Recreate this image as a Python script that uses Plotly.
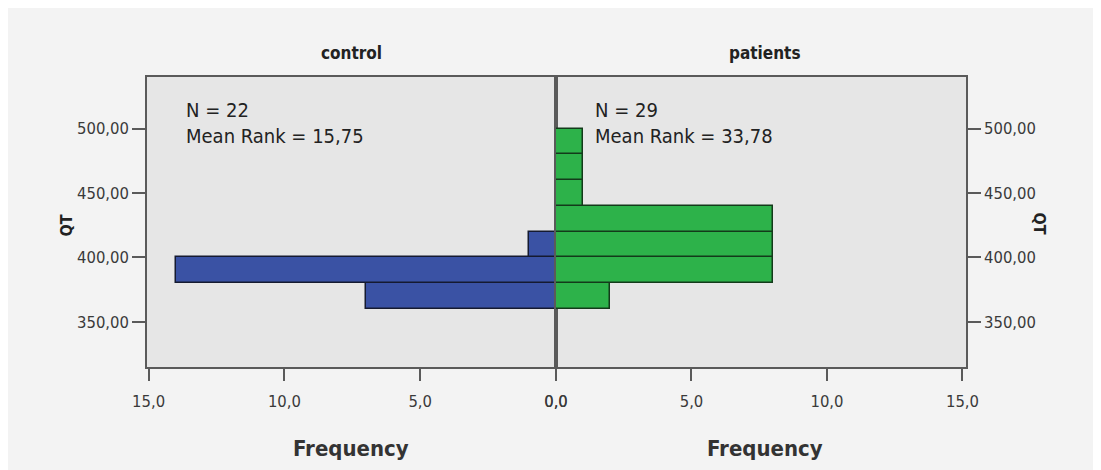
import plotly.graph_objects as go

# ---- data ----
bin_edges = [360, 380, 400, 420, 440, 460, 480, 500]
control_freq = [7, 14, 1, 0, 0, 0, 0]
patients_freq = [2, 8, 8, 8, 1, 1, 1]
groups = ["control", "patients"]
group_n = [22, 29]
mean_rank = ["15,75", "33,78"]
x_tick_vals = [0, 5, 10, 15]
x_tick_text = ["0,0", "5,0", "10,0", "15,0"]
y_tick_vals = [350, 400, 450, 500]
y_tick_text = ["350,00", "400,00", "450,00", "500,00"]

centers = [(a + b) / 2 for a, b in zip(bin_edges[:-1], bin_edges[1:])]
widths = [b - a for a, b in zip(bin_edges[:-1], bin_edges[1:])]

OFF = 8  # page body margin (top / left)
W, H = 1101 - OFF, 470 - OFF
# plot frame in page pixels
L, R, T, B = 147, 966, 77, 367
def px(x):
    return (x - L) / (R - L)
def py(y):
    return (B - y) / (B - T)

FONT = "DejaVu Sans Condensed, Liberation Sans Narrow, Arial Narrow, sans-serif"
BLUE = "#3a52a4"
GREEN = "#2db24a"
FRAME = "#5a5a5a"

fig = go.Figure()
fig.add_trace(go.Bar(
    y=centers, x=control_freq, width=widths, orientation="h",
    marker=dict(color=BLUE, line=dict(color="#151a30", width=1.5)),
    xaxis="x", yaxis="y", showlegend=False, name=groups[0]))
fig.add_trace(go.Bar(
    y=centers, x=patients_freq, width=widths, orientation="h",
    marker=dict(color=GREEN, line=dict(color="#133a1a", width=1.5)),
    xaxis="x2", yaxis="y2", showlegend=False, name=groups[1]))

split = px(556)
yr = [315, 540]
tickfont = dict(family=FONT, size=16.5, color="#3a3a3a")
common_x = dict(tickvals=x_tick_vals, ticktext=x_tick_text, ticks="outside",
                ticklen=12, tickwidth=1.5, tickcolor=FRAME, showgrid=False,
                zeroline=False, showline=True, linecolor=FRAME, linewidth=1.5,
                mirror=True, tickfont=tickfont, ticklabelstandoff=6)
common_y = dict(range=yr, tickvals=y_tick_vals, ticktext=y_tick_text,
                ticks="outside", ticklen=13, tickwidth=1.5, tickcolor=FRAME,
                showgrid=False, zeroline=False, showline=True, linecolor=FRAME,
                linewidth=1.5, mirror=True, tickfont=tickfont)

fig.update_layout(
    width=W, height=H,
    margin=dict(l=L - OFF, r=(W + OFF) - R, t=T - OFF, b=(H + OFF) - B),
    paper_bgcolor="#f3f3f3",
    plot_bgcolor="#e6e6e6",
    barmode="overlay", bargap=0,
    xaxis=dict(domain=[0, split], range=[15.06, 0], anchor="y", **common_x),
    xaxis2=dict(domain=[split, 1], range=[0, 15.13], anchor="y2", **common_x),
    yaxis=dict(domain=[0, 1], anchor="x", side="left", **common_y),
    yaxis2=dict(domain=[0, 1], anchor="x2", side="right", **common_y),
)

ann = []
for name, cx in zip(groups, [351, 765]):
    ann.append(dict(text=f"<b>{name}</b>", x=px(cx), y=py(53), xref="paper",
                    yref="paper", showarrow=False,
                    font=dict(family=FONT, size=17, color="#222"),
                    xanchor="center", yanchor="middle"))
    ann.append(dict(text="<b>Frequency</b>", x=px(cx), y=py(448), xref="paper",
                    yref="paper", showarrow=False,
                    font=dict(family=FONT, size=22, color="#333"),
                    xanchor="center", yanchor="middle"))

for n, mr, lx in zip(group_n, mean_rank, [184, 593]):
    ann.append(dict(text=f"N = {n}<br>Mean Rank = {mr}", x=px(lx), y=py(96),
                    xref="paper", yref="paper", showarrow=False, align="left",
                    xanchor="left", yanchor="top",
                    font=dict(family=FONT, size=20, color="#222")))

ann.append(dict(text="<b>QT</b>", x=px(54), y=py(226), xref="paper", yref="paper",
                showarrow=False, textangle=-90,
                font=dict(family=FONT, size=16, color="#222")))
ann.append(dict(text="<b>QT</b>", x=px(1051), y=py(223), xref="paper", yref="paper",
                showarrow=False, textangle=90,
                font=dict(family=FONT, size=16, color="#222")))
fig.update_layout(annotations=ann)

fig.write_html("out.html", config={"displayModeBar": False})
